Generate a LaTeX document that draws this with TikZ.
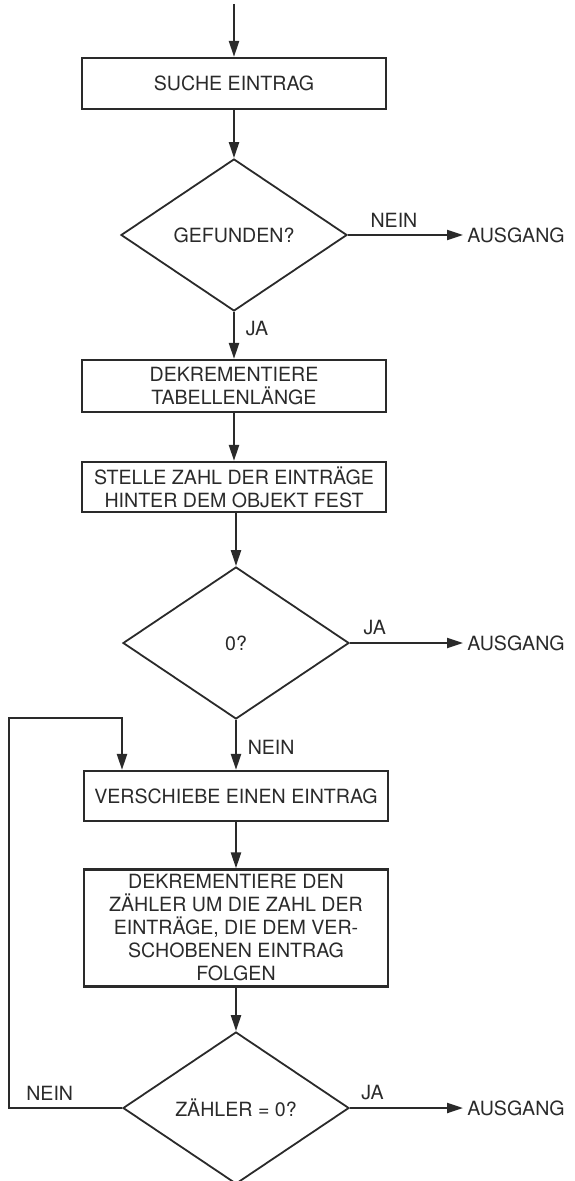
\documentclass[tikz,border=0pt]{standalone}
\usepackage{fontspec}
\setmainfont{TeX Gyre Heros}
\usepackage{tikz}
\usetikzlibrary{positioning,arrows.meta,shapes.geometric,calc}
\definecolor{flowink}{HTML}{2A2A2A}

\begin{document}
\begin{tikzpicture}[x=0.5pt, y=-0.5pt, font=\fontsize{9.8}{11.5}\selectfont, text=flowink,
    kasten/.style={draw=flowink, line width=1.1pt, minimum width=152pt, inner sep=2pt, align=center},
    raute/.style={diamond, draw=flowink, line width=0.9pt, minimum width=113pt, minimum height=76pt, inner sep=0pt},
    ausgang/.style={anchor=west, inner sep=2pt},
    pfeil/.style={draw=flowink, line width=1.1pt, -{Triangle[length=8pt, width=5pt]}}]
  \useasboundingbox (0,0) rectangle (574,1181);
  \coordinate (start) at (234,4);
  \node[kasten, minimum height=25.5pt] (suche) at (234,83.5) {SUCHE EINTRAG};
  \node[raute] (gef) at (234,235) {GEFUNDEN?};
  \node[kasten, minimum height=26pt] (tab) at (234,386) {DEKREMENTIERE\\TABELLENLÄNGE};
  \node[kasten, minimum height=25pt] (stelle) at (234,487) {STELLE ZAHL DER EINTRÄGE\\HINTER DEM OBJEKT FEST};
  \node[raute] (null) at (236,643) {0?};
  \node[kasten, minimum height=25pt] (versch) at (236,796) {VERSCHIEBE EINEN EINTRAG};
  \node[kasten, minimum height=58.5pt] (zaehl) at (236,928) {DEKREMENTIERE DEN\\ZÄHLER UM DIE ZAHL DER\\EINTRÄGE, DIE DEM VER-\\SCHOBENEN EINTRAG\\FOLGEN};
  \node[raute] (zaehler) at (236,1108) {ZÄHLER = 0?};
  \node[ausgang] (aus1) at (463,235) {AUSGANG};
  \node[ausgang] (aus2) at (463,643) {AUSGANG};
  \node[ausgang] (aus3) at (463,1108) {AUSGANG};
  \coordinate (links) at (9,718);
  \coordinate (oben) at (122,718);

  \draw[pfeil] (start) -- (suche);
  \draw[pfeil] (suche) -- (gef);
  \draw[pfeil] (gef.east) -- node[pos=0.4, above] {NEIN} (aus1.west);
  \draw[pfeil] (gef.south) -- node[pos=0.35, right=2pt] {JA} (tab.north);
  \draw[pfeil] (tab) -- (stelle);
  \draw[pfeil] (null.north |- stelle.south) -- (null.north);
  \draw[pfeil] (null.east) -- node[pos=0.22, above] {JA} (aus2.west);
  \draw[pfeil] (null.south) -- node[pos=0.55, right=2pt] {NEIN} (versch.north);
  \draw[pfeil] (versch) -- (zaehl);
  \draw[pfeil] (zaehl.south) -- (zaehler.north);
  \draw[pfeil] (zaehler.east) -- node[pos=0.2, above] {JA} (aus3.west);
  \draw[pfeil] (zaehler.west) -| node[pos=0.32, above] {NEIN} (links) -- (oben) -- (oben |- versch.north);
\end{tikzpicture}
\end{document}
